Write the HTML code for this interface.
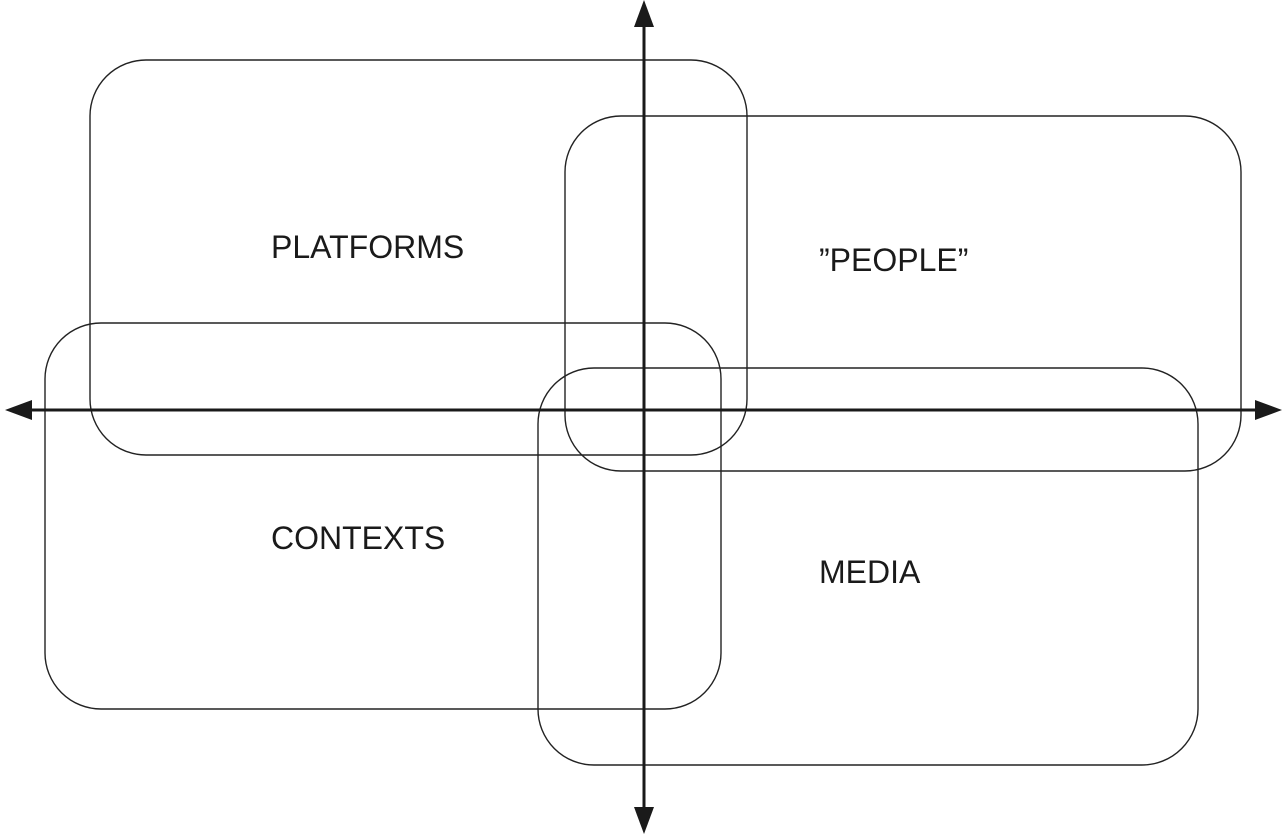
<!DOCTYPE html>
<html><head><meta charset="utf-8"><style>
html,body{margin:0;padding:0;background:#fff;}
svg{display:block;}
text{font-family:"Liberation Sans",sans-serif;font-size:32px;fill:#1a1a1a;}
</style></head><body>
<svg width="1287" height="839" viewBox="0 0 1287 839" xmlns="http://www.w3.org/2000/svg">
<g fill="none" stroke="#222" stroke-width="1.4">
<rect x="90" y="60" width="657" height="395" rx="56" ry="56"/>
<rect x="565" y="116" width="676" height="355" rx="56" ry="56"/>
<rect x="45" y="323" width="676" height="386" rx="56" ry="56"/>
<rect x="538" y="368" width="660" height="397" rx="56" ry="56"/>
</g>
<g stroke="#1a1a1a" stroke-width="3">
<line x1="25" y1="410" x2="1262" y2="410"/>
<line x1="644" y1="22" x2="644" y2="814"/>
</g>
<g fill="#1a1a1a">
<polygon points="5,410 32,400 32,420"/>
<polygon points="1282,410 1255,400 1255,420"/>
<polygon points="644,0 634,27 654,27"/>
<polygon points="644,834 634,807 654,807"/>
</g>
<text x="271" y="258">PLATFORMS</text>
<text x="819" y="271">”PEOPLE”</text>
<text x="271" y="549">CONTEXTS</text>
<text x="819" y="583">MEDIA</text>
</svg>
</body></html>
